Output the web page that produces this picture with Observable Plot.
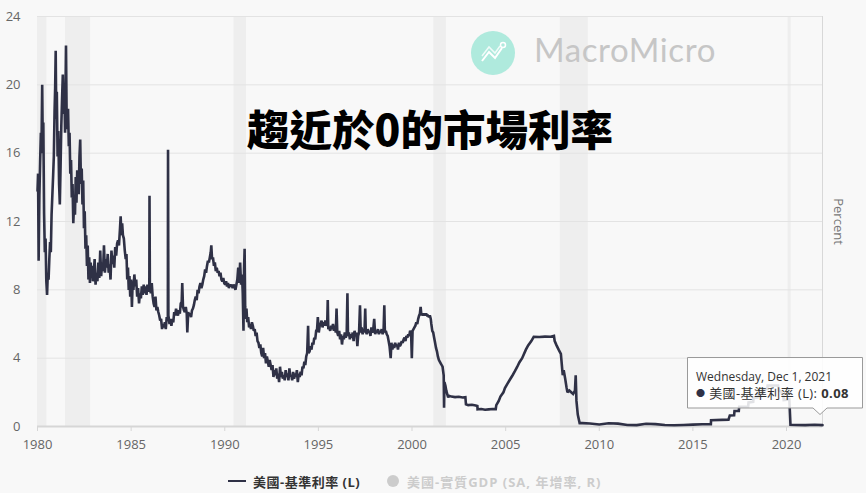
<!DOCTYPE html>
<html><head><meta charset="utf-8">
<script src="https://cdn.jsdelivr.net/npm/d3@7"></script>
<script src="https://cdn.jsdelivr.net/npm/@observablehq/plot@0.6"></script>
<style>
body{margin:0;background:#f8f8f8;font-family:"Open Sans","Noto Sans CJK TC",sans-serif;}
#wrap{position:relative;width:866px;height:493px;overflow:hidden;background:#f8f8f8;}
#wrap svg.plot{position:absolute;left:0;top:0;}
.ov{position:absolute;white-space:nowrap;}
</style></head><body><div id="wrap"></div>
<script>
// ---- data ----
const seriesName = "美國-基準利率 (L)";
const hiddenSeriesName = "美國-實質GDP (SA, 年增率, R)";
const yTicks = [0, 4, 8, 12, 16, 20, 24];
const xTickYears = [1980, 1985, 1990, 1995, 2000, 2005, 2010, 2015, 2020];
const recessions = [
  ["1980-01-01", "1980-07-01"],
  ["1981-07-01", "1982-11-01"],
  ["1990-07-01", "1991-03-01"],
  ["2001-03-01", "2001-11-01"],
  ["2007-12-01", "2009-06-01"],
  ["2020-02-01", "2020-04-01"]
];
const rateSeries = [
[1980.00,13.8],[1980.03,14.8],[1980.06,9.7],[1980.10,13.5],[1980.14,15.5],[1980.18,17.2],[1980.21,16.0],[1980.25,20.0],[1980.28,16.5],[1980.31,17.8],[1980.35,12.5],[1980.39,10.2],[1980.43,11.0],[1980.47,8.5],[1980.51,7.7],[1980.55,9.0],[1980.59,8.6],[1980.63,9.8],[1980.67,10.8],[1980.71,10.2],[1980.75,12.4],[1980.79,13.5],[1980.83,14.6],[1980.87,15.8],[1980.91,18.5],[1980.94,19.8],[1980.97,22.0],
[1981.00,18.0],[1981.03,19.6],[1981.07,15.8],[1981.11,17.3],[1981.15,14.2],[1981.19,13.0],[1981.23,15.2],[1981.27,17.6],[1981.31,19.2],[1981.35,20.6],[1981.39,18.3],[1981.43,19.8],[1981.47,17.2],[1981.52,22.3],[1981.55,18.6],[1981.59,17.4],[1981.63,18.6],[1981.67,16.4],[1981.71,17.2],[1981.75,14.8],[1981.79,15.6],[1981.83,13.4],[1981.87,14.2],[1981.91,11.9],[1981.95,13.0],
[1982.00,12.4],[1982.04,14.6],[1982.08,13.1],[1982.12,15.0],[1982.16,14.3],[1982.20,13.6],[1982.24,15.8],[1982.28,16.8],[1982.32,14.2],[1982.36,15.1],[1982.40,13.0],[1982.44,14.4],[1982.48,11.6],[1982.52,12.6],[1982.56,10.4],[1982.60,11.2],[1982.64,9.4],[1982.68,10.6],[1982.72,8.6],[1982.76,9.9],[1982.80,8.4],[1982.84,9.6],[1982.88,8.7],[1982.92,9.4],[1982.96,8.5],
[1983.00,8.9],[1983.05,9.8],[1983.10,8.3],[1983.15,9.0],[1983.20,8.5],[1983.25,9.6],[1983.30,8.7],[1983.35,10.3],[1983.40,8.8],[1983.45,9.6],[1983.50,9.1],[1983.55,10.6],[1983.60,9.0],[1983.65,9.8],[1983.70,9.3],[1983.75,10.1],[1983.80,9.0],[1983.85,9.5],[1983.90,8.6],[1983.95,10.3],
[1984.00,9.5],[1984.05,10.0],[1984.10,9.3],[1984.15,10.5],[1984.20,10.0],[1984.25,10.7],[1984.30,10.9],[1984.35,10.6],[1984.40,11.5],[1984.44,12.3],[1984.48,11.2],[1984.52,11.9],[1984.56,11.2],[1984.61,11.0],[1984.66,10.3],[1984.71,9.8],[1984.75,10.1],[1984.79,8.6],[1984.83,9.3],[1984.87,8.0],[1984.91,8.8],[1984.95,7.6],
[1985.00,8.6],[1985.04,7.0],[1985.08,8.5],[1985.12,8.0],[1985.17,8.9],[1985.22,8.2],[1985.27,8.6],[1985.32,7.6],[1985.37,8.1],[1985.42,7.2],[1985.47,7.8],[1985.52,7.5],[1985.57,8.2],[1985.62,7.7],[1985.67,8.3],[1985.72,7.8],[1985.77,8.2],[1985.82,7.7],[1985.87,8.3],[1985.92,7.9],[1985.97,8.1],[1985.98,13.5],
[1986.00,8.2],[1986.05,7.8],[1986.10,8.4],[1986.15,7.6],[1986.20,7.2],[1986.25,7.0],[1986.30,7.6],[1986.35,6.8],[1986.40,7.0],[1986.45,6.7],[1986.50,6.5],[1986.55,6.2],[1986.60,6.3],[1986.65,5.7],[1986.70,6.0],[1986.75,5.8],[1986.80,6.1],[1986.85,5.7],[1986.90,6.4],[1986.96,6.2],[1986.97,16.2],[1986.99,6.5],
[1987.05,6.0],[1987.10,6.3],[1987.15,5.9],[1987.20,6.3],[1987.25,6.1],[1987.30,6.7],[1987.35,6.5],[1987.40,6.9],[1987.45,6.6],[1987.50,6.5],[1987.55,6.8],[1987.60,6.6],[1987.65,7.2],[1987.70,7.3],[1987.73,8.4],[1987.77,7.0],[1987.82,6.8],[1987.87,6.7],[1987.92,7.0],[1987.97,6.6],
[1988.00,5.5],[1988.05,6.7],[1988.10,6.5],[1988.15,6.6],[1988.20,6.4],[1988.25,6.8],[1988.30,6.9],[1988.35,7.1],[1988.40,7.4],[1988.45,7.6],[1988.50,7.4],[1988.55,8.0],[1988.60,7.8],[1988.65,8.2],[1988.70,8.4],[1988.75,8.1],[1988.80,8.3],[1988.85,8.6],[1988.90,8.8],[1988.95,9.2],
[1989.00,9.0],[1989.05,9.4],[1989.10,9.7],[1989.15,9.6],[1989.20,9.9],[1989.25,10.2],[1989.28,10.6],[1989.32,9.8],[1989.37,9.9],[1989.42,9.4],[1989.47,9.6],[1989.52,9.1],[1989.57,9.3],[1989.62,9.0],[1989.67,9.1],[1989.72,8.8],[1989.77,9.0],[1989.82,8.6],[1989.87,8.5],[1989.92,8.7],[1989.97,8.4],
[1990.02,8.3],[1990.07,8.5],[1990.12,8.2],[1990.17,8.4],[1990.22,8.1],[1990.27,8.3],[1990.32,8.2],[1990.37,8.3],[1990.42,8.1],[1990.47,8.3],[1990.52,8.2],[1990.57,8.0],[1990.62,8.3],[1990.67,8.6],[1990.72,9.3],[1990.77,8.4],[1990.82,9.6],[1990.87,8.3],[1990.92,8.9],[1990.96,7.8],
[1991.00,5.6],[1991.03,9.2],[1991.06,10.4],[1991.09,7.0],[1991.12,6.3],[1991.16,6.9],[1991.20,6.1],[1991.25,6.4],[1991.30,5.8],[1991.35,6.0],[1991.40,5.7],[1991.45,6.1],[1991.50,5.9],[1991.55,5.6],[1991.60,5.7],[1991.65,5.3],[1991.70,5.5],[1991.75,5.0],[1991.80,4.9],[1991.85,4.6],[1991.90,4.8],[1991.95,4.3],
[1992.00,4.1],[1992.05,4.6],[1992.10,4.0],[1992.15,4.3],[1992.20,3.7],[1992.25,4.1],[1992.30,3.8],[1992.35,3.5],[1992.40,3.9],[1992.45,3.6],[1992.50,3.3],[1992.55,3.6],[1992.60,2.9],[1992.65,3.3],[1992.70,3.0],[1992.75,3.4],[1992.80,2.8],[1992.85,3.1],[1992.90,2.6],[1992.95,3.5],
[1993.00,2.9],[1993.05,3.2],[1993.10,2.8],[1993.15,3.0],[1993.20,2.7],[1993.25,3.3],[1993.30,2.9],[1993.35,3.1],[1993.40,2.7],[1993.45,3.4],[1993.50,2.9],[1993.55,3.0],[1993.60,2.7],[1993.65,3.2],[1993.70,2.8],[1993.75,3.1],[1993.80,2.9],[1993.85,3.3],[1993.90,2.6],[1993.95,3.1],
[1994.00,2.9],[1994.05,3.2],[1994.10,3.0],[1994.15,3.5],[1994.20,3.4],[1994.25,3.8],[1994.30,3.6],[1994.35,4.1],[1994.40,4.3],[1994.45,5.9],[1994.48,4.3],[1994.53,4.4],[1994.58,4.7],[1994.63,4.5],[1994.68,4.9],[1994.73,4.8],[1994.78,5.2],[1994.83,5.1],[1994.88,5.6],[1994.93,5.7],[1994.97,6.4],
[1995.02,5.5],[1995.07,5.9],[1995.12,6.0],[1995.17,6.2],[1995.22,5.8],[1995.27,6.1],[1995.32,5.9],[1995.37,6.2],[1995.42,5.9],[1995.47,6.0],[1995.50,7.4],[1995.53,5.7],[1995.58,5.8],[1995.63,5.6],[1995.68,5.9],[1995.73,5.7],[1995.78,6.0],[1995.83,5.6],[1995.88,5.9],[1995.93,5.5],[1995.97,6.9],
[1996.01,5.5],[1996.06,5.3],[1996.11,5.6],[1996.16,5.1],[1996.21,5.4],[1996.26,4.8],[1996.31,5.3],[1996.36,5.1],[1996.41,5.5],[1996.46,5.2],[1996.51,5.4],[1996.55,7.8],[1996.58,5.3],[1996.63,5.5],[1996.68,5.1],[1996.73,5.4],[1996.78,5.2],[1996.83,5.5],[1996.88,5.0],[1996.93,5.6],[1996.98,5.3],
[1997.03,5.5],[1997.08,4.7],[1997.12,5.3],[1997.17,5.5],[1997.22,7.1],[1997.26,5.5],[1997.31,5.8],[1997.36,5.4],[1997.41,5.7],[1997.46,5.5],[1997.50,6.9],[1997.53,5.6],[1997.58,5.4],[1997.63,5.7],[1997.68,5.5],[1997.73,5.6],[1997.78,5.3],[1997.83,5.8],[1997.88,5.5],[1997.93,5.7],[1997.98,6.3],
[1998.03,5.4],[1998.08,5.6],[1998.13,5.5],[1998.18,5.7],[1998.23,5.4],[1998.28,5.6],[1998.33,5.5],[1998.38,5.7],[1998.43,5.4],[1998.48,5.6],[1998.52,7.1],[1998.55,5.5],[1998.60,5.6],[1998.65,5.4],[1998.70,5.3],[1998.75,5.0],[1998.80,4.7],[1998.86,4.0],[1998.90,4.9],[1998.95,4.5],
[1999.00,4.8],[1999.05,4.6],[1999.10,4.9],[1999.15,4.7],[1999.20,4.8],[1999.25,4.5],[1999.30,4.9],[1999.35,4.7],[1999.40,4.8],[1999.45,5.0],[1999.50,4.9],[1999.55,5.1],[1999.60,5.2],[1999.65,5.0],[1999.70,5.3],[1999.75,5.2],[1999.80,5.4],[1999.85,5.3],[1999.90,5.6],[1999.95,5.5],[1999.99,4.0],
[2000.03,5.6],[2000.08,5.7],[2000.13,5.8],[2000.18,5.9],[2000.23,6.1],[2000.28,6.0],[2000.33,6.3],[2000.38,6.5],[2000.42,6.6],[2000.46,7.0],[2000.50,6.5],[2000.55,6.6],[2000.60,6.5],[2000.65,6.6],[2000.70,6.5],[2000.75,6.6],[2000.80,6.5],[2000.85,6.5],[2000.90,6.4],[2000.95,6.5],
[2001.00,6.3],[2001.03,6.0],[2001.08,5.6],[2001.13,5.5],[2001.18,5.2],[2001.23,4.9],[2001.28,4.6],[2001.33,4.4],[2001.38,4.1],[2001.43,3.9],[2001.48,3.8],[2001.53,3.7],[2001.58,3.6],[2001.63,3.5],[2001.69,3.0],[2001.71,1.1],[2001.73,2.6],[2001.78,2.4],[2001.83,2.1],[2001.88,1.9],[2001.93,1.7],[2001.98,1.8],
[2002.10,1.75],[2002.30,1.72],[2002.50,1.74],[2002.70,1.70],[2002.85,1.72],[2002.88,1.30],[2003.00,1.25],[2003.20,1.27],[2003.40,1.23],[2003.49,1.20],[2003.50,1.00],[2003.70,1.02],[2003.90,0.98],[2004.10,1.00],[2004.30,1.02],[2004.47,1.02],
[2004.50,1.25],[2004.63,1.50],[2004.72,1.75],[2004.88,2.00],[2004.96,2.25],[2005.09,2.50],[2005.23,2.75],[2005.37,3.00],[2005.50,3.25],[2005.62,3.50],[2005.73,3.75],[2005.88,4.00],[2006.08,4.50],[2006.20,4.75],[2006.37,5.00],[2006.50,5.25],[2006.80,5.24],[2007.10,5.26],[2007.40,5.25],[2007.58,5.30],
[2007.62,5.0],[2007.72,4.75],[2007.83,4.5],[2007.95,4.25],[2008.05,3.0],[2008.10,3.3],[2008.18,2.8],[2008.25,2.3],[2008.30,2.0],[2008.40,2.1],[2008.50,2.0],[2008.60,1.9],[2008.70,2.1],[2008.74,3.0],[2008.78,1.5],[2008.85,0.7],[2008.95,0.2],
[2009.10,0.2],[2009.50,0.18],[2010.00,0.12],[2010.50,0.19],[2011.00,0.17],[2011.50,0.09],[2012.00,0.08],[2012.50,0.16],[2013.00,0.14],[2013.50,0.09],[2014.00,0.07],[2014.50,0.09],[2015.00,0.11],[2015.50,0.13],[2015.96,0.13],
[2015.97,0.37],[2016.90,0.40],[2016.97,0.65],[2017.20,0.66],[2017.22,0.91],[2017.45,0.91],[2017.47,1.16],[2017.95,1.16],[2017.97,1.41],[2018.22,1.44],[2018.24,1.69],[2018.45,1.70],[2018.47,1.91],[2018.72,1.92],[2018.74,2.18],[2018.97,2.20],[2018.99,2.40],
[2019.55,2.40],[2019.58,2.13],[2019.72,2.04],[2019.75,1.90],[2019.83,1.83],[2019.85,1.55],[2020.15,1.58],[2020.17,1.10],[2020.21,0.10],[2020.50,0.09],[2021.00,0.08],[2021.50,0.10],[2021.92,0.08]
];
const tooltipDate = "Wednesday, Dec 1, 2021";
const tooltipValue = "0.08";

// ---- build ----
const toDate = y => { const yr = Math.floor(y); const s = Date.UTC(yr,0,1), e = Date.UTC(yr+1,0,1); return new Date(s + (y-yr)*(e-s)); };
const data = rateSeries.map(([y, v]) => ({date: toDate(y), rate: v}));
const bands = recessions.map(([a, b]) => ({start: new Date(a), end: new Date(b)}));
const xTicks = xTickYears.map(y => new Date(Date.UTC(y,0,1)));
const lastDate = data[data.length-1].date;

const plot = Plot.plot({
  width: 866, height: 493,
  marginLeft: 37, marginRight: 44, marginTop: 16, marginBottom: 67,
  style: {background: "transparent", fontFamily: "'Open Sans','Noto Sans CJK TC',sans-serif", fontSize: "13px", color: "#666"},
  x: {type: "utc", domain: [new Date(Date.UTC(1980,0,1)), lastDate]},
  y: {domain: [0, 24]},
  marks: [
    Plot.rect(bands, {x1: "start", x2: "end", y1: 0, y2: 24, fill: "#eeeeee"}),
    Plot.gridY(yTicks, {stroke: "#e3e3e3", strokeOpacity: 1}),
    Plot.ruleX([lastDate], {stroke: "#d8d8d8", strokeWidth: 1}),
    Plot.ruleY([0], {stroke: "#d6d6d6", strokeWidth: 2}),
    Plot.axisY(yTicks, {tickSize: 0, tickPadding: 17, fill: "#666", fontSize: 13, label: null}),
    Plot.axisX(xTicks, {tickSize: 5, tickPadding: 8, stroke: "#d6d6d6", fill: "#666", fontSize: 13, tickFormat: d3.utcFormat("%Y"), label: null}),
    Plot.line(data, {x: "date", y: "rate", stroke: "#2f3146", strokeWidth: 2.6, strokeLinejoin: "miter", strokeMiterlimit: 2}),
    Plot.text(["Percent"], {frameAnchor: "right", dx: 16, rotate: 90, textAnchor: "middle", fill: "#777", fontSize: 13})
  ]
});
plot.classList.add("plot");
const wrap = document.getElementById("wrap");
wrap.appendChild(plot);

// watermark
const wm = document.createElement("div");
wm.className = "ov";
wm.style.cssText = "left:471px;top:31px;";
wm.innerHTML = `<svg width="320" height="50" style="display:block;overflow:visible">
<circle cx="22" cy="22" r="22" fill="#a6e8d9" opacity="0.9"/>
<polyline points="11,30 18,21 24,27 31,17" fill="none" stroke="#fff" stroke-width="2"/>
<polyline points="11,25 18,16 24,22 29,15" fill="none" stroke="#fff" stroke-width="1.5" opacity="0.8"/>
<circle cx="32" cy="14" r="2.5" fill="none" stroke="#fff" stroke-width="1.5"/>
<text x="63" y="31" font-family="Lato" font-weight="400" font-size="33" letter-spacing="0.6" fill="#c6c6c6">MacroMicro</text></svg>`;
wrap.appendChild(wm);

// title
const title = document.createElement("div");
title.className = "ov";
title.style.cssText = "left:247px;top:102px;font-family:'Noto Sans CJK TC';font-weight:900;font-size:42.5px;line-height:52px;color:#000;";
title.textContent = "趨近於0的市場利率";
wrap.appendChild(title);

// tooltip
const tip = document.createElement("div");
tip.className = "ov";
tip.style.cssText = "left:686px;top:356px;width:180px;height:62px;";
tip.innerHTML = `<svg width="180" height="62" style="position:absolute;left:0;top:0">
<path d="M1.5,1.5 H176.5 V52 H141 L134,58.5 L127,52 H1.5 Z" fill="rgba(255,255,255,0.86)" stroke="#9a9a9a" stroke-width="1"/></svg>
<div style="position:absolute;left:10px;top:12px;font-size:12px;color:#333;font-family:'Open Sans','Noto Sans CJK TC';">${tooltipDate}</div>
<div style="position:absolute;left:10px;top:27px;font-size:13px;letter-spacing:0.4px;color:#333;font-family:'Open Sans','Noto Sans CJK TC';"><span style="color:#2f3146;font-size:9px;vertical-align:2px">●</span> ${seriesName}: <b>${tooltipValue}</b></div>`;
wrap.appendChild(tip);

// legend
const leg = document.createElement("div");
leg.className = "ov";
leg.style.cssText = "left:0;top:470px;width:866px;height:22px;font-family:'Open Sans','Noto Sans CJK TC';font-weight:700;font-size:13px;";
leg.innerHTML = `<svg width="866" height="22" style="position:absolute;left:0;top:0">
<line x1="228" x2="246" y1="11" y2="11" stroke="#2f3146" stroke-width="2"/>
<circle cx="393" cy="11" r="6" fill="#cccccc"/></svg>
<div style="position:absolute;left:253px;top:2px;color:#333;letter-spacing:0.5px">${seriesName}</div>
<div style="position:absolute;left:407px;top:2px;color:#cccccc;letter-spacing:1px">${hiddenSeriesName}</div>`;
wrap.appendChild(leg);
</script></body></html>
